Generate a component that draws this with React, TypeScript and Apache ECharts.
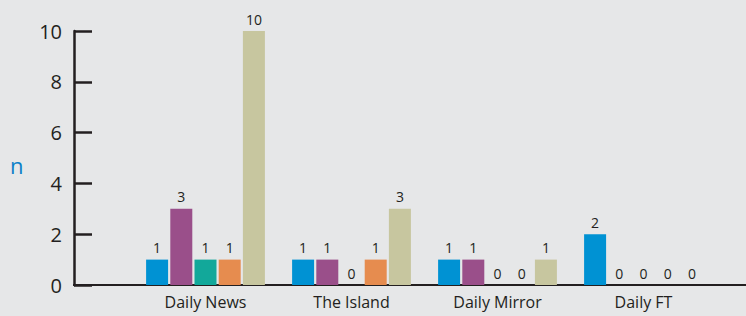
import React, { useEffect, useRef } from "react";
import * as echarts from "echarts";

const categories = ["Daily News", "The Island", "Daily Mirror", "Daily FT"];
const series1 = [1, 1, 1, 2];
const series2 = [3, 1, 1, 0];
const series3 = [1, 0, 0, 0];
const series4 = [1, 1, 0, 0];
const series5 = [10, 3, 1, 0];
const colors = ["#0092d3", "#9a4f8a", "#12a89a", "#e68c4f", "#c7c69f"];
const yTicks = [0, 2, 4, 6, 8, 10];

export default function App() {
  const ref = useRef<HTMLDivElement>(null);
  useEffect(() => {
    if (!ref.current) return;
    const chart = echarts.init(ref.current, null, { renderer: "svg" });
    const all = [series1, series2, series3, series4, series5];
    chart.setOption({
      animation: false,
      backgroundColor: "#e6e7e8",
      grid: { left: 132.5, right: 29.5, top: 31, bottom: 31 },
      xAxis: {
        type: "category",
        data: categories,
        axisLine: { show: false },
        axisTick: { show: false },
        axisLabel: { color: "#231f20", fontSize: 16, fontFamily: "Open Sans", margin: 9 },
      },
      yAxis: {
        type: "value",
        min: yTicks[0],
        max: yTicks[yTicks.length - 1],
        interval: 2,
        offset: 58.5,
        splitLine: { show: false },
        axisLine: { show: true, lineStyle: { color: "#231f20", width: 2.5 } },
        axisTick: { show: true, inside: true, length: 18, lineStyle: { color: "#231f20", width: 2.5 } },
        axisLabel: { color: "#231f20", fontSize: 20, fontFamily: "Open Sans", margin: 12 },
      },
      graphic: [
        {
          type: "line",
          shape: { x1: 73, y1: 285, x2: 746, y2: 285 },
          style: { stroke: "#231f20", lineWidth: 2 },
          z: 0,
        },
        {
          type: "text",
          left: 10,
          top: 154,
          style: { text: "n", fontSize: 22, fontFamily: "Open Sans", fill: "#0a80c8" },
        },
      ],
      series: all.map((d, i) => ({
        type: "bar",
        data: d,
        barWidth: 22,
        barGap: "10%",
        itemStyle: { color: colors[i] },
        z: 3,
        label: {
          show: true,
          position: "top",
          distance: 5,
          color: "#231f20",
          fontSize: 14,
          fontFamily: "Open Sans",
        },
      })),
    });
    return () => chart.dispose();
  }, []);
  return (
    <div
      ref={ref}
      style={{ position: "absolute", left: 0, top: 0, width: 746, height: 316 }}
    />
  );
}
